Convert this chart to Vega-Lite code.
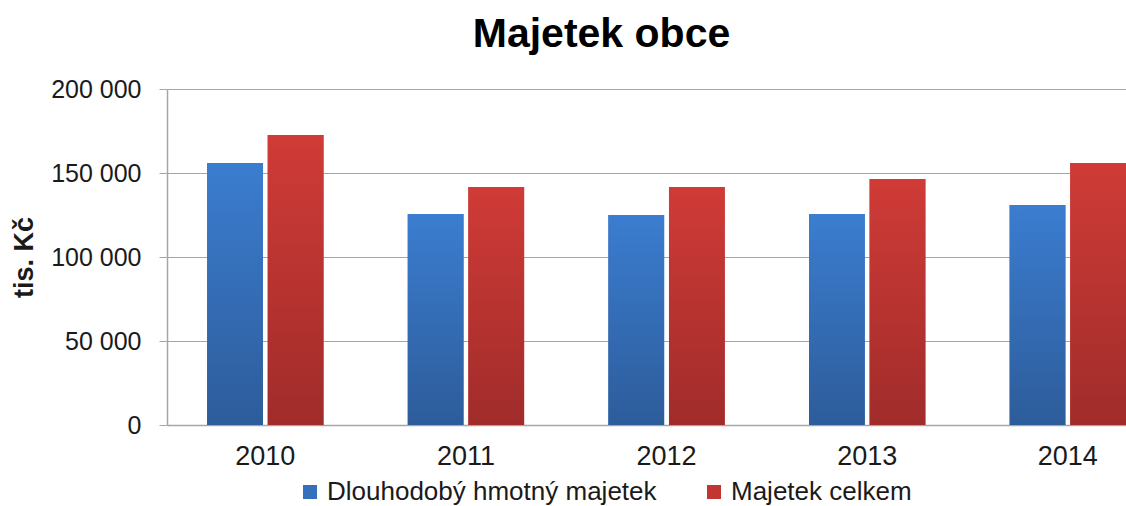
{
  "$schema": "https://vega.github.io/schema/vega-lite/v6.json",
  "autosize": {"type": "none"},
  "width": 959,
  "height": 336,
  "padding": {"left": 167, "top": 89, "right": 0, "bottom": 81},
  "background": "white",
  "config": {
    "font": "Liberation Sans",
    "locale": {"number": {"decimal": ",", "thousands": " ", "grouping": [3], "currency": ["", " Kč"]}},
    "view": {"stroke": null},
    "axis": {"labelFont": "Liberation Sans", "titleFont": "Liberation Sans", "labelColor": "#1a1a1a", "titleColor": "#1a1a1a"}
  },
  "title": {
    "text": "Majetek obce",
    "font": "Liberation Sans",
    "fontSize": 41,
    "fontWeight": "bold",
    "color": "#000000",
    "anchor": "middle",
    "frame": "group",
    "dx": -45,
    "offset": 21
  },
  "data": {
    "values": [
      {"rok": "2010", "serie": "Dlouhodobý hmotný majetek", "hodnota": 156000},
      {"rok": "2010", "serie": "Majetek celkem", "hodnota": 172600},
      {"rok": "2011", "serie": "Dlouhodobý hmotný majetek", "hodnota": 125600},
      {"rok": "2011", "serie": "Majetek celkem", "hodnota": 141700},
      {"rok": "2012", "serie": "Dlouhodobý hmotný majetek", "hodnota": 125000},
      {"rok": "2012", "serie": "Majetek celkem", "hodnota": 141700},
      {"rok": "2013", "serie": "Dlouhodobý hmotný majetek", "hodnota": 125600},
      {"rok": "2013", "serie": "Majetek celkem", "hodnota": 146400},
      {"rok": "2014", "serie": "Dlouhodobý hmotný majetek", "hodnota": 131000},
      {"rok": "2014", "serie": "Majetek celkem", "hodnota": 156000}
    ]
  },
  "encoding": {
    "x": {
      "field": "rok",
      "type": "nominal",
      "scale": {"paddingInner": 0.42, "paddingOuter": 0.1, "align": 1},
      "axis": {
        "title": null,
        "labelAngle": 0,
        "labelFontSize": 27,
        "labelPadding": 18,
        "ticks": false,
        "domainColor": "#a6a6a6",
        "domainWidth": 1.5
      }
    },
    "xOffset": {
      "field": "serie",
      "type": "nominal",
      "scale": {"domain": ["Dlouhodobý hmotný majetek", "Majetek celkem"], "paddingInner": 0.08, "paddingOuter": 0}
    },
    "y": {
      "field": "hodnota",
      "type": "quantitative",
      "scale": {"domain": [0, 200000]},
      "axis": {
        "title": "tis. Kč",
        "titleFontSize": 27,
        "titleFontWeight": "bold",
        "titlePadding": 12,
        "values": [0, 50000, 100000, 150000, 200000],
        "format": ",d",
        "labelFontSize": 25,
        "labelPadding": 18,
        "tickSize": 8,
        "tickColor": "#a6a6a6",
        "domainColor": "#a6a6a6",
        "domainWidth": 1.5,
        "gridColor": "#a6a6a6",
        "gridWidth": 1
      }
    }
  },
  "layer": [
    {
      "mark": {"type": "bar"},
      "encoding": {
        "color": {
          "field": "serie",
          "type": "nominal",
          "scale": {
            "domain": ["Dlouhodobý hmotný majetek", "Majetek celkem"],
            "range": ["#3570bd", "#c13532"]
          },
          "legend": {
            "title": null,
            "orient": "none",
            "direction": "horizontal",
            "legendX": 130,
            "legendY": 390,
            "symbolType": "square",
            "symbolSize": 196,
            "symbolStrokeWidth": 0,
            "labelFontSize": 26,
            "labelColor": "#1a1a1a",
            "labelOffset": 4,
            "columnPadding": 44,
            "labelLimit": 500
          }
        }
      }
    },
    {
      "transform": [{"filter": "datum.serie === 'Dlouhodobý hmotný majetek'"}],
      "mark": {
        "type": "bar",
        "fill": {"gradient": "linear", "x1": 0, "y1": 0, "x2": 0, "y2": 1, "stops": [{"offset": 0, "color": "#3b7dd0"}, {"offset": 1, "color": "#2d5c9a"}]}
      }
    },
    {
      "transform": [{"filter": "datum.serie === 'Majetek celkem'"}],
      "mark": {
        "type": "bar",
        "fill": {"gradient": "linear", "x1": 0, "y1": 0, "x2": 0, "y2": 1, "stops": [{"offset": 0, "color": "#d03b37"}, {"offset": 1, "color": "#a02c2a"}]}
      }
    }
  ]
}
